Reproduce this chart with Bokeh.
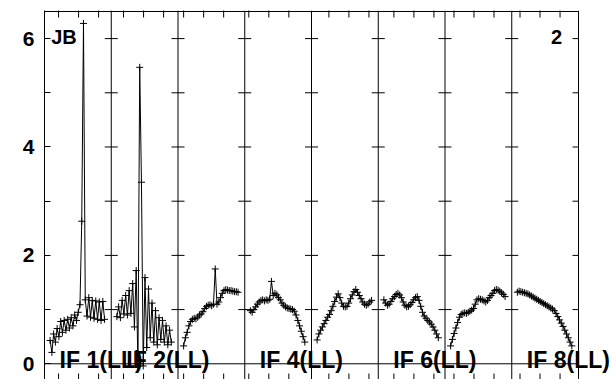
import math
from bokeh.plotting import figure
from bokeh.models import Range1d, LinearAxis, FixedTicker, Span, Label
from bokeh.embed import file_html
from bokeh.resources import INLINE

# ---- data (amplitude per channel, 8 IFs, 32 channels each) ----
channels = list(range(32))
if1 = [0.43, 0.21, 0.55, 0.40, 0.65, 0.50, 0.78, 0.58, 0.80, 0.62, 0.82, 0.66, 0.85, 0.70, 0.90, 0.80,
       0.95, 1.09, 2.63, 6.28, 1.18, 0.88, 1.22, 0.86, 1.17, 0.84, 1.16, 0.82, 1.14, 0.80, 1.15, 0.82]
if2 = [0.87, 1.05, 0.85, 1.17, 0.92, 1.26, 0.90, 1.35, 0.93, 1.48, 0.68, 1.72, -0.05, 5.47, 3.35, -0.04,
       1.59, 0.30, 1.38, 0.48, 1.12, 0.40, 0.98, 0.35, 0.85, 0.45, 0.80, 0.40, 0.70, 0.35, 0.62, 0.40]
if3 = [0.33, 0.48, 0.58, 0.70, 0.78, 0.82, 0.84, 0.83, 0.86, 0.90, 0.92, 0.96, 1.02, 1.06, 1.08, 1.09,
       1.07, 1.10, 1.75, 1.10, 1.14, 1.22, 1.30, 1.35, 1.37, 1.36, 1.35, 1.35, 1.34, 1.33, 1.33, 1.32]
if4 = [0.98, 0.95, 1.00, 1.05, 1.10, 1.14, 1.17, 1.18, 1.16, 1.18, 1.17, 1.19, 1.52, 1.26, 1.30, 1.27,
       1.22, 1.18, 1.12, 1.08, 1.05, 1.03, 1.02, 1.01, 1.00, 0.97, 0.90, 0.80, 0.70, 0.60, 0.50, 0.40]
if5 = [0.44, 0.55, 0.62, 0.68, 0.74, 0.80, 0.86, 0.91, 0.98, 1.06, 1.15, 1.23, 1.29, 1.22, 1.12, 1.06,
       1.05, 1.06, 1.12, 1.20, 1.27, 1.33, 1.37, 1.32, 1.26, 1.20, 1.14, 1.10, 1.08, 1.10, 1.14, 1.17]
if6 = [1.18, 1.12, 1.08, 1.10, 1.15, 1.20, 1.24, 1.28, 1.30, 1.27, 1.22, 1.14, 1.08, 1.05, 1.06, 1.09,
       1.13, 1.18, 1.22, 1.24, 1.17, 1.06, 0.95, 0.88, 0.84, 0.80, 0.77, 0.73, 0.68, 0.62, 0.55, 0.48]
if7 = [0.33, 0.45, 0.56, 0.66, 0.76, 0.86, 0.91, 0.93, 0.94, 0.93, 0.95, 0.97, 0.99, 1.02, 1.10, 1.18,
       1.20, 1.19, 1.18, 1.16, 1.14, 1.17, 1.22, 1.26, 1.30, 1.35, 1.37, 1.36, 1.34, 1.31, 1.28, 1.24]
if8 = [1.32, 1.34, 1.33, 1.32, 1.31, 1.30, 1.29, 1.27, 1.25, 1.23, 1.21, 1.19, 1.17, 1.15, 1.13, 1.11,
       1.09, 1.07, 1.05, 1.03, 1.01, 0.98, 0.93, 0.87, 0.81, 0.75, 0.69, 0.62, 0.55, 0.48, 0.40, 0.33]
series = [if1, if2, if3, if4, if5, if6, if7, if8]

if_labels = ["IF 1(LL)", "IF 2(LL)", "IF 4(LL)", "IF 6(LL)", "IF 8(LL)"]
if_label_panels = [0, 1, 3, 5, 7]
y_ticks = [0, 1, 2, 3, 4, 5, 6]
y_tick_labels = {0: "0", 1: "", 2: "2", 3: "", 4: "4", 5: "", 6: "6"}
# first channel-axis tick offset in each panel (channel units), tick spacing
tick_first = [8.0, 7.0, 3.2, 2.3, 9.9, 8.9, 5.1, 4.7]
tick_step = 11.4
source_label = "JB"
page_label = "2"

# ---- layout ----
NP = len(series)
PANEL_W = 38.0
CH_OFF = 3.2
FONT = "Liberation Sans"
Y0, Y1 = -0.29, 6.50          # plotted box (bottom edge falls at the window edge)
X1 = NP * PANEL_W             # right edge of the boxed plot
PX_PER_X = 534.0 / X1
X_END = X1 + 37.0 / PX_PER_X  # extra room on the right so the last IF label is not clipped
Y_TOP = Y1 + 1.0 / 54.17
TICK = 6.0 / PX_PER_X

p = figure(width=615, height=379, x_range=Range1d(0, X_END), y_range=Range1d(Y0, Y_TOP),
           output_backend="svg", toolbar_location=None, x_axis_location=None, y_axis_location=None,
           min_border_left=44, min_border_right=0, min_border_top=10, min_border_bottom=0)
p.xgrid.visible = False
p.ygrid.visible = False
p.outline_line_color = None
p.background_fill_color = "white"
p.border_fill_color = "white"

left = LinearAxis(ticker=FixedTicker(ticks=y_ticks), major_label_overrides=y_tick_labels)
left.major_tick_in = 6
left.major_tick_out = 0
left.minor_tick_line_color = None
left.axis_line_color = "black"
left.major_label_text_font = FONT
left.major_label_text_font_style = "bold"
left.major_label_text_font_size = "21px"
left.major_label_text_color = "black"
left.major_label_standoff = 10
p.add_layout(left, "left")

# box: top/bottom edges and right edge
p.segment(x0=[0, 0], y0=[Y1, Y0], x1=[X1, X1], y1=[Y1, Y0], line_color="black", line_width=1)
p.add_layout(Span(location=X1, dimension="height", line_color="black", line_width=1))
# right-edge inward ticks
ry = y_ticks[1:]
p.segment(x0=[X1 - TICK] * len(ry), y0=ry, x1=[X1] * len(ry), y1=ry, line_color="black", line_width=1)

# top and bottom inward channel ticks
xt = []
for k in range(NP):
    for j in range(3):
        xt.append(k * PANEL_W + tick_first[k] + j * tick_step)
p.scatter(xt, [Y1] * len(xt), marker="dash", angle=math.pi / 2, size=12, line_color="black", line_width=1)
p.scatter(xt, [Y0] * len(xt), marker="dash", angle=math.pi / 2, size=12, line_color="black", line_width=1)

# zero line (inside the box)
p.segment(x0=[0], y0=[0], x1=[X1], y1=[0], line_color="black", line_width=1)
# panel separators with cross ticks
bx, by = [], []
for k in range(1, NP):
    p.add_layout(Span(location=k * PANEL_W, dimension="height", line_color="black", line_width=1))
    for yv in y_ticks[1:]:
        bx.append(k * PANEL_W)
        by.append(yv)
p.scatter(bx, by, marker="dash", size=13, line_color="black", line_width=1)

for k, vals in enumerate(series):
    xs = [k * PANEL_W + CH_OFF + c for c in channels]
    p.line(xs, vals, line_color="black", line_width=1)
    p.scatter(xs, vals, marker="cross", size=7, line_color="black", line_width=1)

for k, txt in zip(if_label_panels, if_labels):
    p.add_layout(Label(x=k * PANEL_W + 8.6, y=0.07, text=txt, text_font=FONT, text_font_style="bold",
                       text_font_size="23px", text_color="black", text_baseline="alphabetic",
                       text_align="left"))

p.add_layout(Label(x=3.8, y=6.03, text=source_label, text_font=FONT, text_font_style="bold",
                   text_font_size="20px", text_color="black", text_baseline="alphabetic"))
p.add_layout(Label(x=X1 - 9.3, y=6.03, text=page_label, text_font=FONT, text_font_style="bold",
                   text_font_size="20px", text_color="black", text_baseline="alphabetic",
                   text_align="right"))

open("out.html", "w").write(file_html(p, INLINE))
